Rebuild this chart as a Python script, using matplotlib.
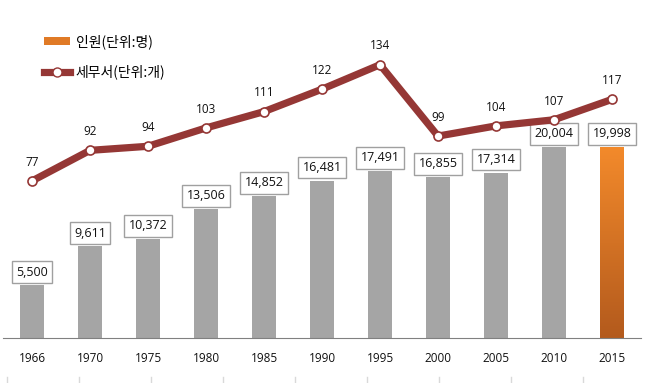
import matplotlib
matplotlib.use("Agg")
import matplotlib.pyplot as plt
import numpy as np
from matplotlib.lines import Line2D
from matplotlib.patches import Patch
from matplotlib.colors import LinearSegmentedColormap

plt.rcParams['font.family'] = ['Noto Sans CJK KR', 'DejaVu Sans']
NUMFONT = ['Open Sans', 'Noto Sans CJK KR', 'DejaVu Sans']

years = ['1966', '1970', '1975', '1980', '1985', '1990', '1995', '2000', '2005', '2010', '2015']
staff = [5500, 9611, 10372, 13506, 14852, 16481, 17491, 16855, 17314, 20004, 19998]
offices = [77, 92, 94, 103, 111, 122, 134, 99, 104, 107, 117]
staff_label = '인원(단위:명)'
office_label = '세무서(단위:개)'

W, H = 647, 383
fig = plt.figure(figsize=(W / 100, H / 100), dpi=100)
ax = fig.add_axes([3 / W, (H - 338) / H, 638 / W, 330 / H])
ax2 = ax.twinx()

x = np.arange(len(years))
bw = 0.4
colors = ['#A5A5A5'] * (len(years) - 1) + ['none']
bars = ax.bar(x, staff, width=bw, color=colors, zorder=2)

# gradient for last bar
last = bars[-1]
grad = np.linspace(0, 1, 256).reshape(-1, 1)
cmap = LinearSegmentedColormap.from_list('og', ['#B35A1D', '#F38A2B'])
bx, by = last.get_x(), last.get_y()
im = ax.imshow(grad, cmap=cmap, origin='lower', aspect='auto',
               extent=[bx, bx + last.get_width(), by, by + last.get_height()], zorder=2)
im.set_clip_path(last)
last.set_facecolor('none')

ax.set_xlim(-0.5, len(years) - 0.5)
ax.set_ylim(0, 34555)
ax2.set_ylim(0, 161.8)

for xi, v in zip(x, staff):
    ax.annotate(f'{v:,}', (xi, v), xytext=(0, 9.5), textcoords='offset points',
                ha='center', va='center', fontsize=9, color='#111111', family=NUMFONT,
                bbox=dict(boxstyle='square,pad=0.35', fc='white', ec='#A0A0A0', lw=1), zorder=5)

ax2.plot(x, offices, color='#953735', lw=5.2, marker='o', ms=6.5,
         mfc='white', mec='#953735', mew=1.2, zorder=4, solid_capstyle='butt')
for xi, v in zip(x, offices):
    ax2.annotate(str(v), (xi, v), xytext=(0, 13.5), textcoords='offset points',
                 ha='center', va='center', fontsize=8.5, color='#111111', family=NUMFONT)

for a in (ax, ax2):
    for s in ('top', 'right', 'left'):
        a.spines[s].set_visible(False)
    a.set_yticks([])
ax.spines['bottom'].set_color('#808080')
ax2.spines['bottom'].set_visible(False)
ax.set_xticks(x)
ax.set_xticklabels(years, fontsize=8.5, color='#111111', family=NUMFONT)
ax.tick_params(axis='x', length=0, pad=10)

ax2.set_zorder(ax.get_zorder() + 1)
ax2.patch.set_visible(False)

handles = [Patch(facecolor='#E07A26', edgecolor='none'),
           Line2D([0], [0], color='#953735', lw=5.2, marker='o', ms=6.5, mfc='white', mec='#953735')]
fig.legend(handles, [staff_label, office_label], loc='upper left',
           bbox_to_anchor=(44 / W, 1 - 34 / H), frameon=False, fontsize=10,
           handlelength=1.9, handleheight=0.55, labelspacing=1.15, handletextpad=0.4,
           borderpad=0, borderaxespad=0)

# faint tick fragments at bottom edge
for k in range(9):
    xp = (7 + 72 * k) / W
    fig.add_artist(Line2D([xp, xp], [0, 6 / H], color='#D9D9D9', lw=1))

fig.savefig('out.png', dpi=100)
